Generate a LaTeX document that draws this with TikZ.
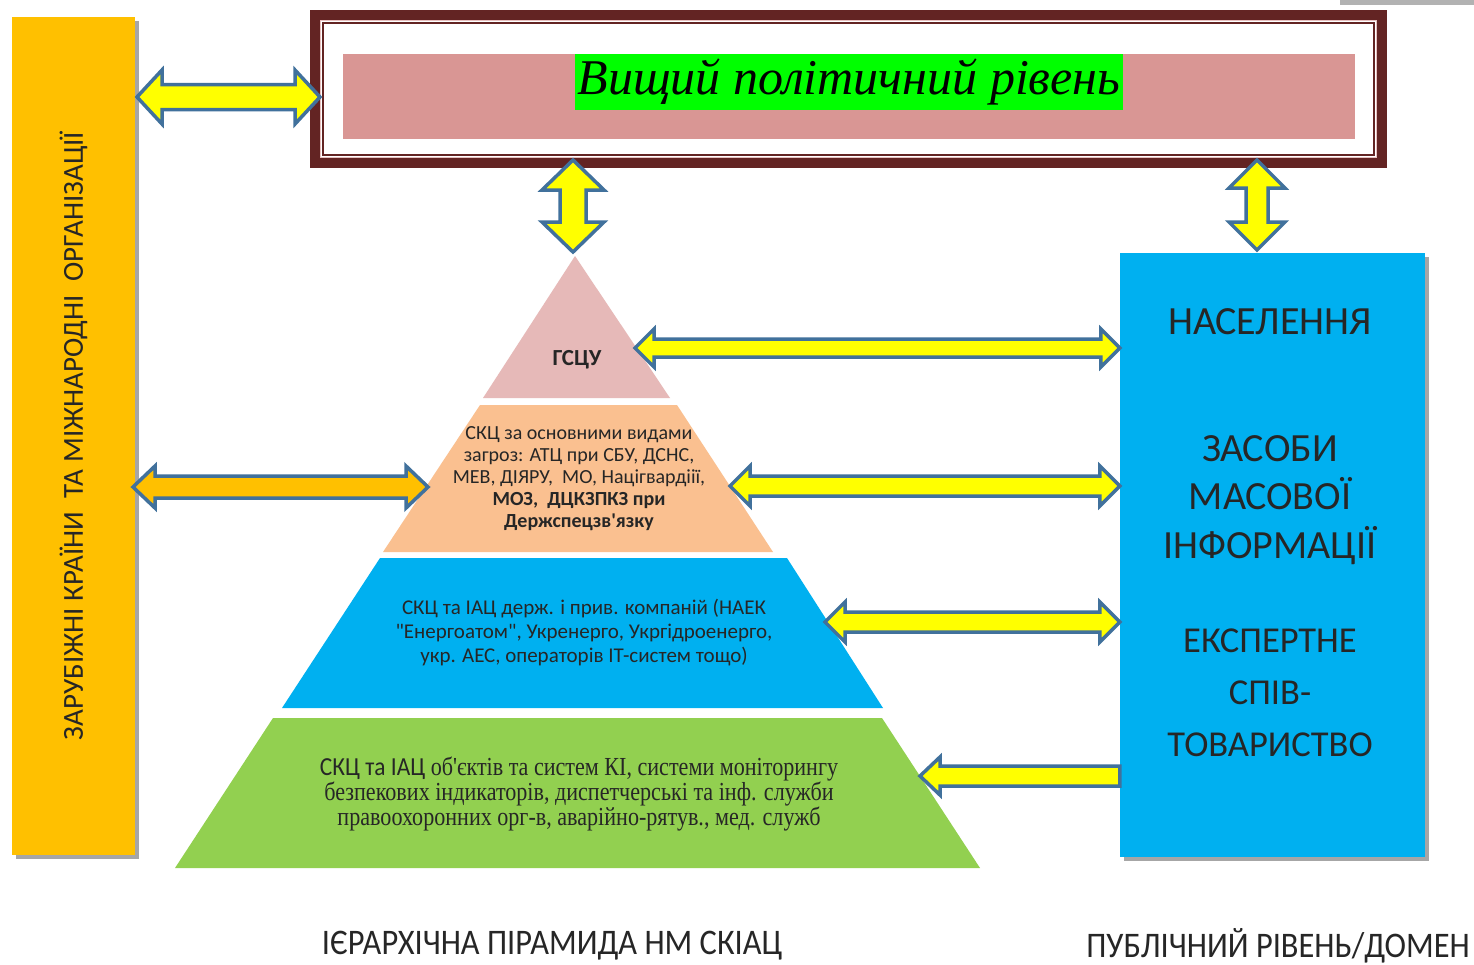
\documentclass[tikz,border=0pt]{standalone}
\usepackage{fontspec}
\setmainfont{Carlito}
\newfontfamily\titlefont{Liberation Serif}
\newfontfamily\narrowserif[FakeStretch=0.85]{Liberation Serif}
\newfontfamily\narrowsans[FakeStretch=0.9]{Carlito}
\usetikzlibrary{calc,shadows}
\newcommand\sqt{\XeTeXglyph\XeTeXcharglyph"27\relax}
\newcommand\dqt{\XeTeXglyph\XeTeXcharglyph"22\relax}
\definecolor{orangebar}{HTML}{FFC000}
\definecolor{skyblue}{HTML}{00B0F0}
\definecolor{maroon}{HTML}{632423}
\definecolor{bandpink}{HTML}{D99694}
\definecolor{hlgreen}{HTML}{00FF00}
\definecolor{lpink}{HTML}{E6B9B8}
\definecolor{lpeach}{HTML}{FAC090}
\definecolor{lgreen}{HTML}{92D050}
\definecolor{arrowyellow}{HTML}{FFFF00}
\definecolor{arrowedge}{HTML}{41719C}
% horizontal double block arrow: left coord, right coord, shaft half, head half, head length, fill
\newcommand\HDArrow[6]{%
  \draw[blockarrow,fill=#6] let \p1=(#1), \p2=(#2) in
    (\x1,\y1) -- (\x1+#5,\y1+#4) -- (\x1+#5,\y1+#3) -- (\x2-#5,\y1+#3) -- (\x2-#5,\y1+#4)
    -- (\x2,\y1) -- (\x2-#5,\y1-#4) -- (\x2-#5,\y1-#3) -- (\x1+#5,\y1-#3) -- (\x1+#5,\y1-#4) -- cycle;}
% horizontal single block arrow pointing left
\newcommand\HLArrow[6]{%
  \draw[blockarrow,fill=#6] let \p1=(#1), \p2=(#2) in
    (\x1,\y1) -- (\x1+#5,\y1+#4) -- (\x1+#5,\y1+#3) -- (\x2,\y1+#3)
    -- (\x2,\y1-#3) -- (\x1+#5,\y1-#3) -- (\x1+#5,\y1-#4) -- cycle;}
% vertical double block arrow: upper coord, lower coord
\newcommand\VDArrow[6]{%
  \draw[blockarrow,fill=#6] let \p1=(#1), \p2=(#2) in
    (\x1,\y1) -- (\x1+#4,\y1-#5) -- (\x1+#3,\y1-#5) -- (\x1+#3,\y2+#5) -- (\x1+#4,\y2+#5)
    -- (\x1,\y2) -- (\x1-#4,\y2+#5) -- (\x1-#3,\y2+#5) -- (\x1-#3,\y1-#5) -- (\x1-#4,\y1-#5) -- cycle;}
\begin{document}
\begin{tikzpicture}[x=1pt,y=-1pt,
  blockarrow/.style={draw=arrowedge,line width=3.5pt,line join=miter},
  shadowed/.style={drop shadow={shadow xshift=4pt,shadow yshift=-4pt,opacity=0.35,fill=black}},
  layertext/.style={align=center,text=black!85,inner sep=0pt},
  pubtext/.style={align=center,font=\fontsize{40}{48.5}\selectfont,text=black!85,inner sep=0pt},
  bottomlabel/.style={font=\narrowsans\fontsize{36}{40}\selectfont,text=black!85,inner sep=0pt}]
\useasboundingbox (0,0) rectangle (1474,964);
\fill[white] (0,0) rectangle (1474,964);
% grey corner piece at top right
\fill[black!30] (1340,0) rectangle (1474,5);

% left bar
\node[shadowed,fill=orangebar,rotate=90,minimum width=838pt,minimum height=123pt,inner sep=0pt,
      font=\fontsize{29}{34}\selectfont,text=black!85] (foreign) at (73.5,436)
  {ЗАРУБІЖНІ КРАЇНИ\ \ ТА МІЖНАРОДНІ\ \ ОРГАНІЗАЦІЇ};

% top frame
\node[draw=maroon,line width=10pt,minimum width=1067pt,minimum height=148pt,inner sep=0pt] (top) at (848.5,89) {};
\draw[bandpink!60,line width=1pt] (320.5,20.5) rectangle (1376.5,157.5);
\draw[maroon,line width=2pt] (323,23) rectangle (1374,155);
\node[fill=bandpink,minimum width=1012pt,minimum height=85pt,inner sep=0pt] (band) at (849,96.5) {};
\node[fill=hlgreen,minimum height=56pt,inner xsep=3pt,inner ysep=0pt,
      font=\titlefont\itshape\fontsize{50}{56}\selectfont] (title) at (849,82) {Вищий політичний рівень};

% right box
\node[shadowed,fill=skyblue,minimum width=305pt,minimum height=604pt,inner sep=0pt] (pub) at (1272.5,555) {};
\node[pubtext] (pop) at (1270,322) {НАСЕЛЕННЯ};
\node[pubtext] (media) at (1270,500) {ЗАСОБИ\\МАСОВОЇ\\ІНФОРМАЦІЇ};
\node[pubtext,font=\fontsize{36.5}{52}\selectfont] (expert) at (1270,693) {ЕКСПЕРТНЕ\\СПІВ-\\ТОВАРИСТВО};

% pyramid
\fill[lpink]  (575,256) -- (670,398) -- (483,398) -- cycle;
\fill[lpeach] (480,405) -- (677,405) -- (773,552) -- (383,552) -- cycle;
\fill[skyblue] (380,558) -- (787,558) -- (883,708) -- (282,708) -- cycle;
\fill[lgreen] (273,718) -- (882,718) -- (980,868) -- (175,868) -- cycle;

\node[layertext,font=\bfseries\fontsize{23}{26}\selectfont] (L1) at (577,360) {ГСЦУ};
\node[layertext,font=\fontsize{20}{22}\selectfont] (L2) at (579,479)
  {СКЦ за основними видами\\загроз: АТЦ при СБУ, ДСНС,\\МЕВ, ДІЯРУ,\ \ МО, Націгвардіії,\\
   \bfseries МОЗ,\ \ ДЦКЗПКЗ при\\\bfseries Держспецзв\sqt язку};
\node[layertext,font=\fontsize{21}{24}\selectfont] (L3) at (584,633)
  {СКЦ та ІАЦ держ. і прив. компаній (НАЕК\\\dqt Енергоатом\dqt, Укренерго, Укргідроенерго,\\укр. АЕС, операторів ІТ-систем тощо)};
\node[layertext,font=\narrowserif\fontsize{26}{24}\selectfont] (L4) at (579,794)
  {{\narrowsans СКЦ та ІАЦ} об'єктів та систем КІ, системи моніторингу\\безпекових індикаторів, диспетчерські та інф. служби\\правоохоронних орг-в, аварійно-рятув., мед. служб};

% arrow end points
\coordinate (a1) at (137,97);   \coordinate (a2) at (320,97);
\coordinate (b1) at (133,487);  \coordinate (b2) at (428,487);
\coordinate (v1) at (573,160);  \coordinate (v2) at (573,252);
\coordinate (w1) at (1257,160); \coordinate (w2) at (1257,250);
\coordinate (h1) at (635,348);
\coordinate (h2) at (730,486);
\coordinate (h3) at (825,622);
\coordinate (h4) at (920,776);

% arrows
\HDArrow{a1}{a2}{12.5pt}{27pt}{25pt}{arrowyellow}
\HDArrow{b1}{b2}{11pt}{21pt}{22pt}{orangebar}
\VDArrow{v1}{v2}{13pt}{31pt}{30pt}{arrowyellow}
\VDArrow{w1}{w2}{11pt}{28pt}{28pt}{arrowyellow}
\HDArrow{h1}{pub.west|-h1}{9pt}{19pt}{19pt}{arrowyellow}
\HDArrow{h2}{pub.west|-h2}{10pt}{20pt}{20pt}{arrowyellow}
\HDArrow{h3}{pub.west|-h3}{10pt}{20pt}{20pt}{arrowyellow}
\HLArrow{h4}{pub.west|-h4}{10pt}{19pt}{20pt}{arrowyellow}

% bottom labels
\node[bottomlabel] (pyrlabel) at (552,946) {ІЄРАРХІЧНА ПІРАМИДА НМ СКІАЦ};
\node[bottomlabel] (publabel) at (1278,946) {ПУБЛІЧНИЙ РІВЕНЬ/ДОМЕН};
\end{tikzpicture}
\end{document}
